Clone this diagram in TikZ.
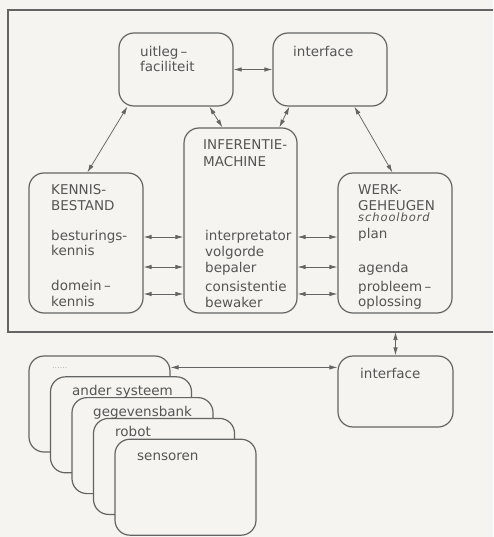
\documentclass[tikz,border=0pt]{standalone}
\usepackage{fontspec}
\setmainfont{DejaVu Sans}
\usetikzlibrary{arrows.meta}
\definecolor{paper}{RGB}{245,244,240}
\definecolor{ink}{RGB}{100,100,100}
\definecolor{txt}{RGB}{85,85,85}
\begin{document}
\begin{tikzpicture}[x=1pt,y=-1pt,
  panel/.style={draw=ink, line width=1.2pt, rounded corners=15pt, fill=paper, inner sep=0pt},
  lbl/.style={anchor=base west, inner sep=0pt, text=txt, font=\fontsize{13.5}{16}\selectfont},
  note/.style={lbl, font=\fontsize{11.5}{13}\selectfont\itshape\addfontfeature{LetterSpace=8}},
  link/.style={draw=ink, line width=0.75pt, {Latex[length=8pt,width=4.5pt]}-{Latex[length=8pt,width=4.5pt]}},
]
\useasboundingbox[fill=paper] (0,0) rectangle (493,537);
\clip (0,0) rectangle (493,537);

% system frame (open to the right)
\draw[ink, line width=1.2pt] (500,10) -- (8,10) -- (8,332) -- (500,332);
\coordinate (fb) at (395.5,332);

% main components
\node[panel, minimum width=114pt, minimum height=73pt]  (uit)  at (176,69.5) {};
\node[panel, minimum width=114pt, minimum height=73pt]  (itf)  at (330,69.5) {};
\node[panel, minimum width=113pt, minimum height=185pt] (inf)  at (240.5,220.5) {};
\node[panel, minimum width=114pt, minimum height=140pt] (ken)  at (86,243) {};
\node[panel, minimum width=114pt, minimum height=140pt] (wrk)  at (395,243) {};
\node[panel, minimum width=115pt, minimum height=71pt]  (itf2) at (395.5,391.5) {};

% stacked external systems
\node[panel, minimum width=141pt, minimum height=96pt] (s1) at (99.5,404) {};
\node[panel, minimum width=141pt, minimum height=96pt] (s2) at (121,424.8) {};
\node[panel, minimum width=141pt, minimum height=96pt] (s3) at (142.5,445.6) {};
\node[panel, minimum width=141pt, minimum height=96pt] (s4) at (164,466.4) {};
\node[panel, minimum width=141pt, minimum height=96pt] (s5) at (185.5,487.2) {};

% labels
\node[lbl] (t1) at (140,57) {uitleg\,–};
\node[lbl] (t2) at (140,72) {faciliteit};
\node[lbl] (t3) at (293,57) {interface};

\node[lbl] (t4)  at (203,150) {INFERENTIE-};
\node[lbl] (t5)  at (203,167) {MACHINE};
\node[lbl] (t6)  at (205,240) {interpretator};
\node[lbl] (t7)  at (205,256) {volgorde};
\node[lbl] (t8)  at (205,272) {bepaler};
\node[lbl] (t9)  at (205,291) {consistentie};
\node[lbl] (t10) at (205,307) {bewaker};

\node[lbl] (k1) at (51,194) {KENNIS-};
\node[lbl] (k2) at (51,210) {BESTAND};
\node[lbl] (k3) at (51,240) {besturings-};
\node[lbl] (k4) at (51,255) {kennis};
\node[lbl] (k5) at (51,290) {domein\,–};
\node[lbl] (k6) at (51,306) {kennis};

\node[lbl]  (w1) at (358,194) {WERK-};
\node[lbl]  (w2) at (358,210) {GEHEUGEN};
\node[note] (w3) at (358,222) {schoolbord};
\node[lbl]  (w4) at (358,238) {plan};
\node[lbl]  (w5) at (358,272) {agenda};
\node[lbl]  (w6) at (358,291) {probleem\,–};
\node[lbl]  (w7) at (358,306) {oplossing};

\node[lbl] (i2) at (360,378) {interface};

\node[lbl, text=black!30, font=\fontsize{8}{9}\selectfont] (x1) at (52,368) {......};
\node[lbl] (x2) at (72,395) {ander systeem};
\node[lbl] (x3) at (93,416) {gegevensbank};
\node[lbl] (x4) at (115,436) {robot};
\node[lbl] (x5) at (137,460) {sensoren};

% connections
\draw[link] (uit.east) -- (itf.west);
\draw[link] ([xshift=9pt]uit.south west)  -- ([xshift=59pt]ken.north west);
\draw[link] ([xshift=91pt]uit.south west) -- ([xshift=39pt]inf.north west);
\draw[link] ([xshift=17pt]itf.south west) -- ([xshift=96pt]inf.north west);
\draw[link] ([xshift=82pt]itf.south west) -- ([xshift=55pt]wrk.north west);

\foreach \dy in {6,-24,-51} {
  \draw[link] ([yshift=\dy pt]ken.east) -- ([yshift=\dy pt]ken.east -| inf.west);
  \draw[link] ([yshift=\dy pt]wrk.west -| inf.east) -- ([yshift=\dy pt]wrk.west);
}

\draw[link] (fb) -- (itf2.north);
\draw[link] ([yshift=-12pt]s1.north east) -- ([yshift=-12pt]itf2.north west);
\end{tikzpicture}
\end{document}
